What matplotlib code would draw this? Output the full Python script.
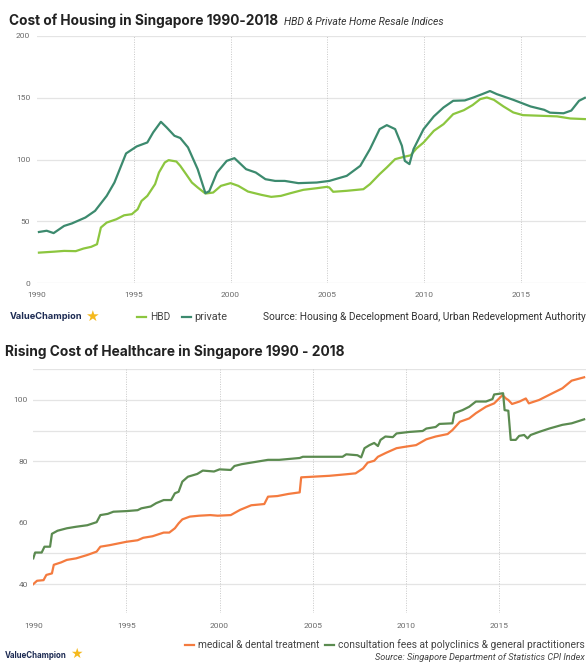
import matplotlib
matplotlib.use("Agg")
import matplotlib.pyplot as plt
from matplotlib.lines import Line2D

# ---------------- data ----------------
hbd_years = [1990.1, 1990.9, 1991.4, 1992.0, 1992.4, 1992.8, 1993.1, 1993.3, 1993.6, 1994.1,
             1994.5, 1994.9, 1995.2, 1995.4, 1995.7, 1996.1, 1996.3, 1996.6, 1996.8, 1997.2,
             1997.4, 1997.7, 1998.0, 1998.3, 1998.7, 1999.1, 1999.5, 2000.0, 2000.4, 2000.9,
             2001.6, 2002.1, 2002.6, 2003.1, 2003.76, 2004.45, 2004.97, 2005.1, 2005.3, 2006.0,
             2006.86, 2007.2, 2007.7, 2008.07, 2008.5, 2008.93, 2009.3, 2009.6, 2009.97, 2010.5,
             2011.0, 2011.5, 2012.05, 2012.5, 2012.9, 2013.24, 2013.6, 2014.1, 2014.6, 2015.1,
             2016.0, 2016.86, 2017.55, 2018.3]
hbd_values = [24.8, 25.6, 26.2, 26, 28.1, 29.5, 31.6, 45.1, 49.1, 51.8,
              55, 55.9, 59.9, 66.6, 70.7, 80.2, 89.6, 97.7, 99.6, 98.5,
              95, 88.3, 81.5, 77.5, 72.6, 73.4, 78.8, 81, 78.8, 74.2,
              71.5, 69.9, 70.7, 72.9, 75.6, 76.9, 78, 77.5, 74, 74.8,
              76.1, 80.2, 88.3, 93.7, 100.4, 102.2, 103.5, 109, 113.9, 123.3,
              128.7, 136.8, 140, 144.1, 149, 150.3, 148.4, 143, 138.2, 136,
              135.5, 135, 133.3, 132.8]

private_years = [1990.1, 1990.5, 1990.86, 1991.4, 1991.8, 1992.5, 1993.0, 1993.6, 1994.0, 1994.6,
                 1995.15, 1995.7, 1996.0, 1996.4, 1996.7, 1997.1, 1997.4, 1997.8, 1998.3, 1998.7,
                 1998.9, 1999.3, 1999.8, 2000.2, 2000.8, 2001.3, 2001.8, 2002.3, 2002.8, 2003.5,
                 2004.45, 2005.1, 2006.0, 2006.7, 2007.2, 2007.7, 2008.07, 2008.5, 2008.85, 2009.0,
                 2009.24, 2009.45, 2009.97, 2010.5, 2011.0, 2011.5, 2012.1, 2012.55, 2013.0, 2013.4,
                 2013.75, 2014.6, 2015.5, 2016.2, 2016.5, 2017.2, 2017.6, 2018.0, 2018.3]
private_values = [41.5, 42.5, 40.6, 46.4, 48.4, 53.2, 58.6, 70.7, 81.5, 105,
                  110.7, 113.9, 122, 130.6, 126, 119.3, 117.5, 109.9, 92.3, 72.9,
                  74.5, 89.6, 99, 101.2, 92.3, 89.6, 84.2, 82.8, 82.8, 81,
                  81.5, 82.8, 86.9, 95, 108.5, 124.7, 127.9, 124.7, 111.2, 99,
                  96.4, 108.5, 124.7, 135, 142.2, 147.6, 147.9, 150.3, 153, 155.5,
                  153, 148.4, 143, 140.3, 138, 137.5, 139.7, 147.6, 150]

medical_years = [1990.0, 1990.2, 1990.55, 1990.7, 1991.0, 1991.1, 1991.5, 1991.8, 1992.3, 1992.9,
                 1993.4, 1993.6, 1994.1, 1995.0, 1995.6, 1995.9, 1996.4, 1997.0, 1997.3, 1997.6,
                 1997.8, 1998.0, 1998.4, 1998.9, 1999.5, 1999.9, 2000.6, 2001.1, 2001.7, 2002.4,
                 2002.6, 2003.1, 2003.7, 2004.3, 2004.38, 2005.0, 2005.9, 2006.8, 2007.3, 2007.7,
                 2007.95, 2008.3, 2008.5, 2008.94, 2009.5, 2010.0, 2010.55, 2011.1, 2011.6, 2012.24,
                 2012.5, 2012.9, 2013.4, 2013.76, 2014.3, 2014.74, 2015.19, 2015.37, 2015.5, 2015.7,
                 2016.1, 2016.44, 2016.6, 2017.15, 2017.87, 2018.4, 2018.9, 2019.57]
medical_values = [40.0, 41.1, 41.3, 43, 43.5, 46.3, 47.1, 47.9, 48.4, 49.5,
                  50.6, 52.2, 52.7, 53.8, 54.3, 55.1, 55.6, 56.8, 56.8, 58.2,
                  59.8, 61.1, 62, 62.3, 62.5, 62.3, 62.5, 64.2, 65.7, 66.1,
                  68.5, 68.7, 69.4, 69.9, 74.8, 75, 75.3, 75.8, 76.1, 77.7,
                  79.6, 80.2, 81.5, 82.8, 84.3, 84.8, 85.3, 87.2, 88.1, 88.9,
                  90.2, 92.9, 94, 95.7, 97.8, 98.9, 101.6, 100.5, 100, 98.7,
                  99.5, 100.5, 98.9, 100, 102.2, 103.8, 106.3, 107.4]

consult_years = [1990.0, 1990.1, 1990.45, 1990.6, 1990.9, 1991.0, 1991.3, 1991.8, 1992.3, 1992.9,
                 1993.4, 1993.6, 1994.0, 1994.3, 1995.0, 1995.6, 1995.8, 1996.3, 1996.6, 1997.0,
                 1997.4, 1997.6, 1997.8, 1998.0, 1998.3, 1998.8, 1999.1, 1999.7, 2000.0, 2000.6,
                 2000.8, 2001.2, 2001.8, 2002.6, 2003.2, 2004.3, 2004.47, 2006.6, 2006.8, 2007.4,
                 2007.6, 2007.78, 2008.05, 2008.3, 2008.5, 2008.64, 2008.9, 2009.3, 2009.5, 2010.2,
                 2010.9, 2011.1, 2011.6, 2011.8, 2012.5, 2012.6, 2013.04, 2013.4, 2013.76, 2014.3,
                 2014.65, 2014.74, 2015.22, 2015.3, 2015.5, 2015.63, 2015.9, 2016.08, 2016.35, 2016.53,
                 2016.7, 2017.15, 2017.7, 2018.4, 2018.9, 2019.57]
consult_values = [48.4, 50.3, 50.3, 52.2, 52.2, 56.4, 57.4, 58.2, 58.7, 59.2,
                  60.2, 62.5, 62.9, 63.6, 63.8, 64.1, 64.7, 65.3, 66.4, 67.4,
                  67.4, 69.6, 70.1, 73.4, 75, 75.9, 77, 76.7, 77.4, 77.2,
                  78.5, 79.1, 79.7, 80.5, 80.5, 81.1, 81.5, 81.5, 82.3, 82,
                  81.3, 84.3, 85.3, 86, 85, 87, 88.1, 87.9, 89.1, 89.6,
                  89.9, 90.7, 91.2, 92.2, 92.4, 95.7, 96.7, 97.8, 99.5, 99.5,
                  100.3, 101.8, 102.2, 96.7, 96.5, 87, 87, 88.3, 88.6, 87.5,
                  88.6, 89.6, 90.7, 91.9, 92.4, 93.7]

year_ticks = [1990, 1995, 2000, 2005, 2010, 2015]
year_labels = ["1990", "1995", "2000", "2005", "2010", "2015"]
house_yticks = [0, 50, 100, 150, 200]
health_yticks = [40, 60, 80, 100]
health_grid = [40, 50, 80, 90, 100, 110]

title1 = "Cost of Housing in Singapore 1990-2018"
subtitle1 = "HBD & Private Home Resale Indices"
source1 = "Source: Housing & Decelopment Board, Urban Redevelopment Authority"
title2 = "Rising Cost of Healthcare in Singapore 1990 - 2018"
source2 = "Source: Singapore Department of Statistics CPI Index"
series_names1 = ["HBD", "private"]
series_names2 = ["medical & dental treatment",
                 "consultation fees at polyclinics & general practitioners"]

# ---------------- style ----------------
C_HBD = "#8cc63f"
C_PRIV = "#3c8a6e"
C_MED = "#f47b3f"
C_CON = "#5b8b50"
C_GRID = "#e4e4e4"
C_VGRID = "#c8c8c8"
C_TICK = "#6a6a6a"
C_TEXT = "#222222"
C_LOGO = "#1d2b53"

W, H = 586, 664
fig = plt.figure(figsize=(W / 100, H / 100), dpi=100)
renderer = fig.canvas.get_renderer()


def px_axes(l, t, r, b):
    return fig.add_axes([l / W, 1 - b / H, (r - l) / W, (b - t) / H])


def fit_text(x, y, s, width, ha="left", **kw):
    t = fig.text(x / W, 1 - y / H, s, ha=ha, va="center", fontsize=10, **kw)
    w = t.get_window_extent(renderer=renderer).width
    t.set_fontsize(10 * width / w)
    return t


def legend_line(x0, x1, y, color):
    fig.add_artist(Line2D([x0 / W, x1 / W], [1 - y / H, 1 - y / H],
                          transform=fig.transFigure, color=color, lw=1.6))


def style_axes(ax, vlines):
    for sp in ax.spines.values():
        sp.set_visible(False)
    for v in vlines:
        ax.axvline(v, color=C_VGRID, lw=0.7, ls=(0, (1, 1.5)), zorder=0)
    ax.tick_params(length=0, labelsize=6, labelcolor=C_TICK)
    for lab in ax.get_xticklabels() + ax.get_yticklabels():
        lab.set_family("Roboto")


# ---------------- top chart ----------------
ax1 = px_axes(37, 36, 586, 283.3)
ax1.set_xlim(1990, 2018.36)
ax1.set_ylim(0, 200)
for g in house_yticks:
    ax1.axhline(g, color=C_GRID, lw=0.9, zorder=0)
ax1.set_xticks(year_ticks)
ax1.set_xticklabels(year_labels)
ax1.set_yticks(house_yticks)
ax1.plot(hbd_years, hbd_values, color=C_HBD, lw=1.6, solid_joinstyle="round")
ax1.plot(private_years, private_values, color=C_PRIV, lw=1.6, solid_joinstyle="round")
style_axes(ax1, year_ticks[1:])
ax1.tick_params(axis="x", pad=6)
ax1.tick_params(axis="y", pad=5)

# ---------------- bottom chart ----------------
ax2 = px_axes(33.3, 369.3, 586, 613.3)
ax2.set_xlim(1990, 2019.67)
ax2.set_ylim(30.5, 110)
for g in health_grid:
    ax2.axhline(g, color=C_GRID, lw=0.9, zorder=0)
ax2.set_xticks(year_ticks)
ax2.set_xticklabels(year_labels)
ax2.set_yticks(health_yticks)
ax2.plot(medical_years, medical_values, color=C_MED, lw=1.6)
ax2.plot(consult_years, consult_values, color=C_CON, lw=1.6)
style_axes(ax2, year_ticks[1:])
ax2.tick_params(axis="x", pad=7)
ax2.tick_params(axis="y", pad=4)

# ---------------- texts ----------------
fit_text(9, 21, title1, 270, family="Inter", weight="bold", color=C_TEXT)
fit_text(284, 22, subtitle1, 159, family="Roboto", style="italic", color="#333333")

fit_text(10, 317, "ValueChampion", 72, family="Inter", weight="bold", color=C_LOGO)
fig.text(92 / W, 1 - 316 / H, "\u2605", ha="center", va="center", fontsize=11,
         color="#f5b91d", family="DejaVu Sans")
legend_line(137, 146, 317, C_HBD)
fit_text(150, 317, series_names1[0], 20, family="Roboto", color="#444444")
legend_line(182, 191, 317, C_PRIV)
fit_text(194, 317, series_names1[1], 33, family="Roboto", color="#444444")
fit_text(263, 317, source1, 322, family="Roboto", color="#333333")

fit_text(5, 352, title2, 340, family="Inter", weight="bold", color=C_TEXT)

legend_line(185, 194, 645, C_MED)
fit_text(198, 645, series_names2[0], 121, family="Roboto", color="#444444")
legend_line(325, 334, 645, C_CON)
fit_text(338, 645, series_names2[1], 247, family="Roboto", color="#444444")
fit_text(585, 657, source2, 209, ha="right", family="Roboto", style="italic", color="#444444")
fit_text(5, 655, "ValueChampion", 62, family="Inter", weight="bold", color=C_LOGO)
fig.text(76 / W, 1 - 654 / H, "\u2605", ha="center", va="center", fontsize=10,
         color="#f5b91d", family="DejaVu Sans")

fig.savefig("out.png", dpi=100, facecolor="white")
